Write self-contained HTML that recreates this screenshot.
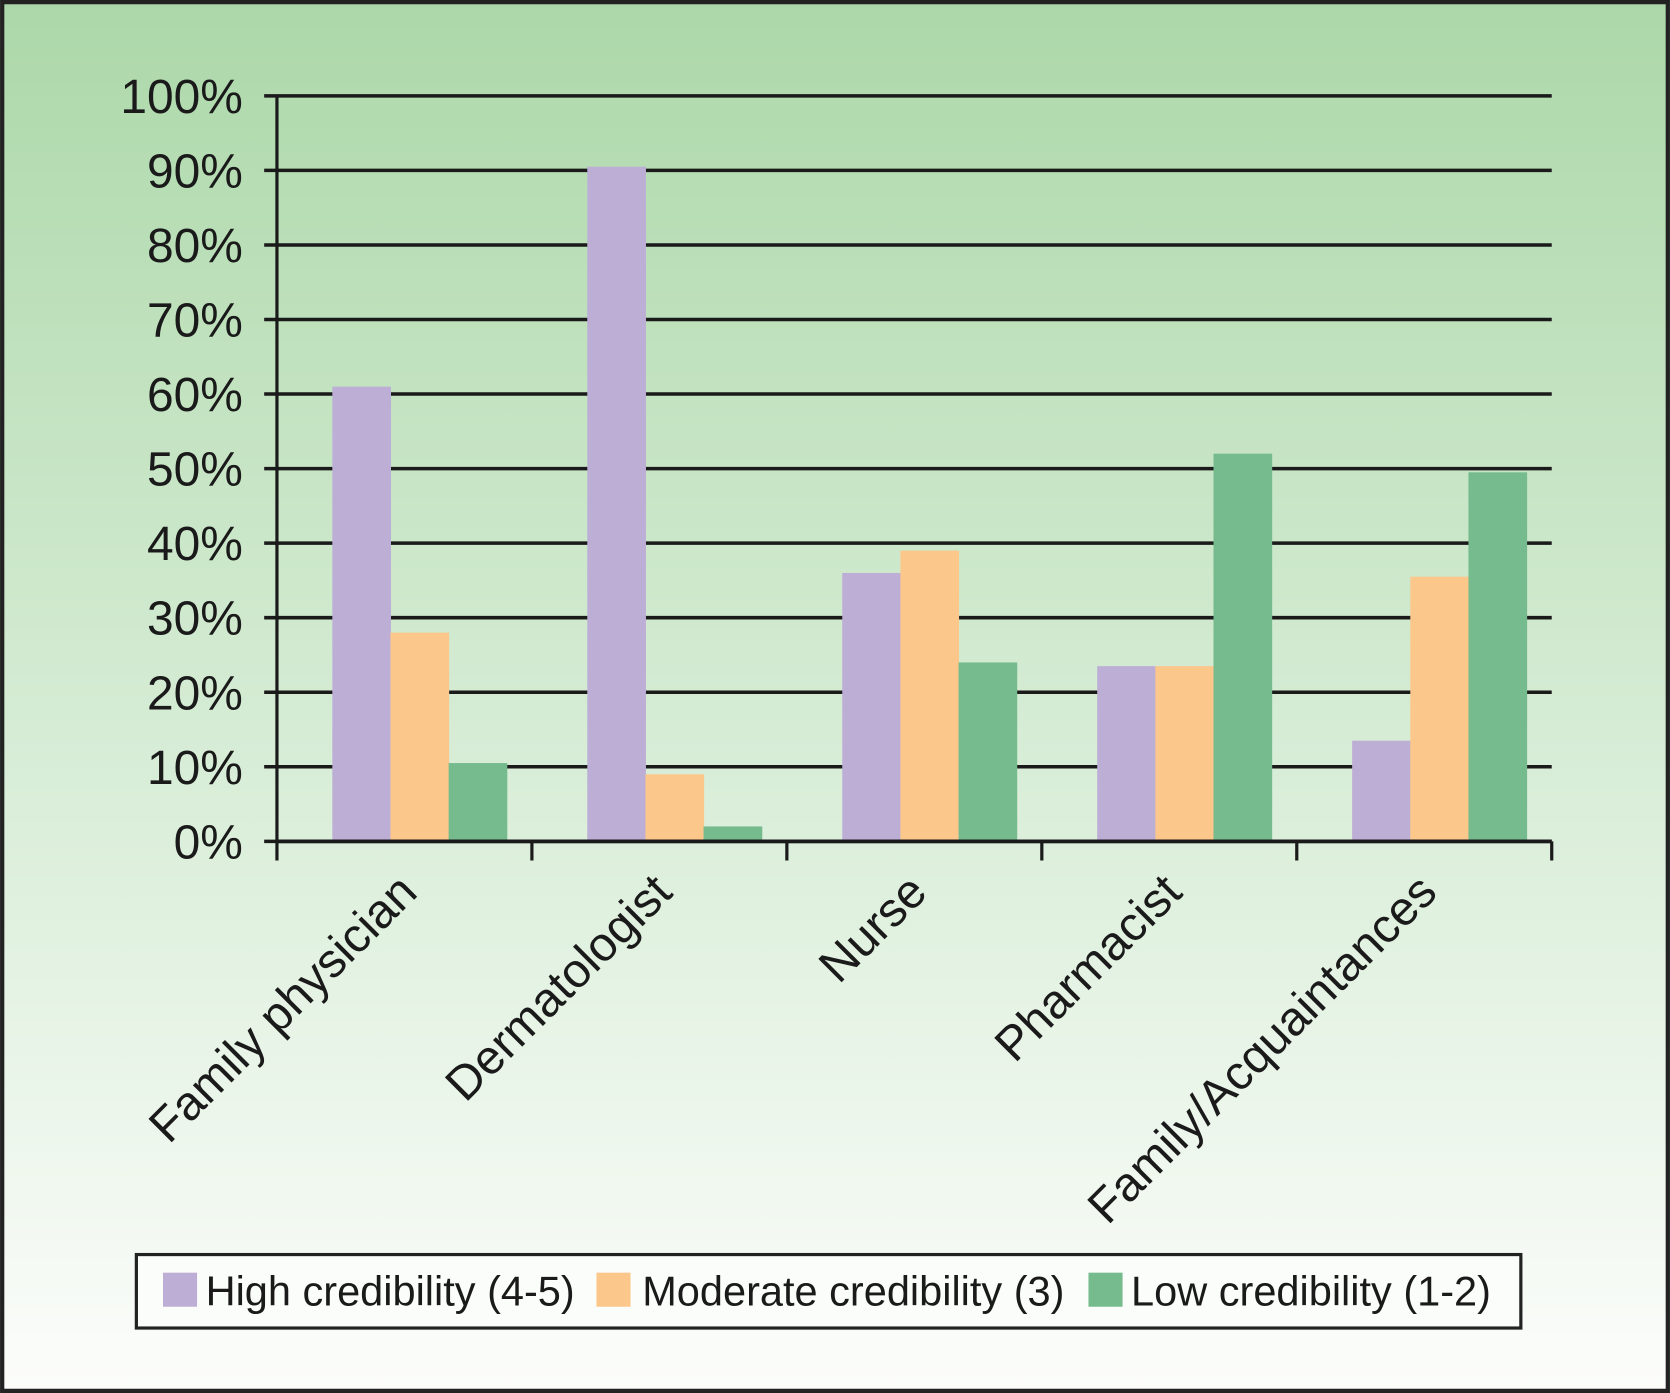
<!DOCTYPE html>
<html><head><meta charset="utf-8"><style>
html,body{margin:0;padding:0;width:1670px;height:1393px;overflow:hidden;background:#fff}
svg{display:block}
text{font-family:"Liberation Sans",sans-serif;fill:#1a1a1a}
</style></head><body>
<svg id="chart" width="1670" height="1393" viewBox="0 0 1568 1308" xmlns="http://www.w3.org/2000/svg">
<defs><linearGradient id="bg" x1="0" y1="0" x2="0" y2="1">
<stop offset="0" stop-color="#acd8a9"/><stop offset="0.6" stop-color="#dcefdb"/><stop offset="1" stop-color="#fcfdfb"/></linearGradient></defs>
<rect x="2" y="2" width="1564" height="1304" fill="url(#bg)" stroke="#222" stroke-width="4"/>
<g id="grid"></g><g id="bars"></g><g id="axes"></g><g id="labels"></g>
<g>
<rect x="128" y="1178" width="1300" height="69" fill="#fbfdfa" stroke="#222" stroke-width="3"/>
<rect x="153" y="1195" width="32" height="32" fill="#bdaed6"/>
<text x="193" y="1226" font-size="39">High credibility (4-5)</text>
<rect x="560" y="1195" width="32" height="32" fill="#fcc78a"/>
<text x="603" y="1226" font-size="39">Moderate credibility (3)</text>
<rect x="1022" y="1195" width="32" height="32" fill="#76bb8e"/>
<text x="1062" y="1226" font-size="39">Low credibility (1-2)</text>
</g>
</svg>
<script>
const categories = ["Family physician","Dermatologist","Nurse","Pharmacist","Family/Acquaintances"];
const highValues = [61, 90.5, 36, 23.5, 13.5];
const moderateValues = [28, 9, 39, 23.5, 35.5];
const lowValues = [10.5, 2, 24, 52, 49.5];
const yTicks = [0,10,20,30,40,50,60,70,80,90,100];
const tickLabels = ["0%","10%","20%","30%","40%","50%","60%","70%","80%","90%","100%"];

const NS="http://www.w3.org/2000/svg";
const x0=260, x1=1457, y0=790, y1=90;
const groupW=(x1-x0)/categories.length;
const barW=54.6, groupPad=52;
function yScale(v){return y0-(v/100)*(y0-y1);}
function xCat(i){return x0+i*groupW;}
function mk(tag,attrs,parent){const e=document.createElementNS(NS,tag);for(const k in attrs)e.setAttribute(k,attrs[k]);parent.appendChild(e);return e;}
const grid=document.getElementById('grid'),bars=document.getElementById('bars'),axes=document.getElementById('axes'),labels=document.getElementById('labels');
yTicks.forEach((t,i)=>{
  const y=yScale(t);
  const l=mk('line',{x1:x0-12,x2:x1,y1:y,y2:y,stroke:'#1a1a1a','stroke-width':3.3},grid);
  
  
  const tx=mk('text',{x:228,y:y+16,'font-size':45,'text-anchor':'end'},labels);
  tx.textContent=tickLabels[i];
  
  
});
const series=[[highValues,'#bdaed6','high'],[moderateValues,'#fcc78a','moderate'],[lowValues,'#76bb8e','low']];
categories.forEach((c,i)=>{
  series.forEach((s,j)=>{
    const v=s[0][i];
    const r=mk('rect',{x:xCat(i)+groupPad+j*barW,y:yScale(v),width:barW+0.5,height:y0-yScale(v),fill:s[1]},bars);
    
    
  });
  const cx=xCat(i)+groupW/2;
  const t=mk('text',{x:0,y:0,'font-size':45,'text-anchor':'end',transform:'translate('+(cx+14)+',840) rotate(-45)'},labels);
  t.textContent=c;
  
  
});
const ya=mk('line',{x1:x0,x2:x0,y1:y1,y2:y0+18,stroke:'#1a1a1a','stroke-width':3},axes);


const xa=mk('line',{x1:x0,x2:x1,y1:y0,y2:y0,stroke:'#1a1a1a','stroke-width':3.5},axes);


for(let i=1;i<=categories.length;i++){
  const tk=mk('line',{x1:xCat(i),x2:xCat(i),y1:y0,y2:y0+18,stroke:'#1a1a1a','stroke-width':3},axes);
  
  
}
</script>
</body></html>
